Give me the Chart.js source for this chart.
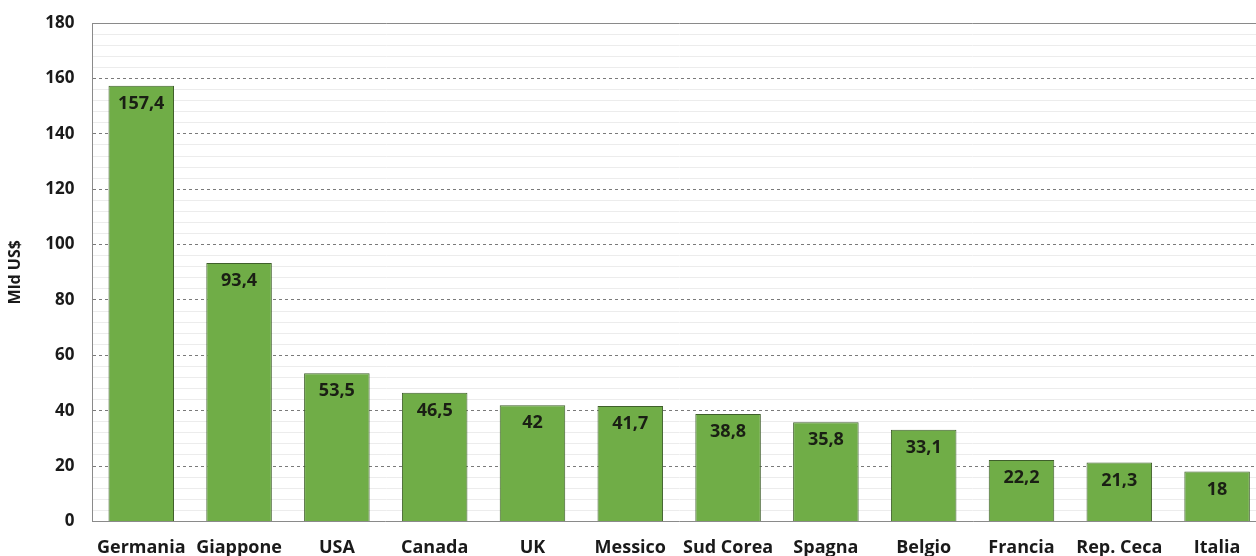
<!DOCTYPE html>
<html>
<head>
<meta charset="utf-8">
<script src="https://cdn.jsdelivr.net/npm/chart.js@4"></script>
<style>
  html, body { margin: 0; padding: 0; background: #fff; overflow: hidden; }
  #wrap { width: 1266px; height: 572px; margin-top: -5px; position: relative; }
</style>
</head>
<body>
<div id="wrap"><canvas id="exportChart"></canvas></div>
<script>
const paesi = ['Germania', 'Giappone', 'USA', 'Canada', 'UK', 'Messico', 'Sud Corea', 'Spagna', 'Belgio', 'Francia', 'Rep. Ceca', 'Italia'];
const valori = [157.4, 93.4, 53.5, 46.5, 42, 41.7, 38.8, 35.8, 33.1, 22.2, 21.3, 18];
const asseY = { min: 0, max: 180, passo: 4, passoEtichette: 20 };

const FONT = "'Open Sans', 'Noto Sans', sans-serif";

// scrive il valore dentro la barra, vicino alla cima
const etichetteValori = {
  id: 'etichetteValori',
  afterDatasetsDraw(chart) {
    const ctx = chart.ctx;
    const meta = chart.getDatasetMeta(0);
    ctx.save();
    ctx.font = 'bold 18px ' + FONT;
    ctx.fillStyle = '#1a1f14';
    ctx.textAlign = 'center';
    ctx.textBaseline = 'middle';
    meta.data.forEach((bar, i) => {
      const txt = String(valori[i]).replace('.', ',');
      ctx.fillText(txt, bar.x, bar.y + 18);
    });
    ctx.restore();
  }
};

const grafico = new Chart(document.getElementById('exportChart'), {
  type: 'bar',
  data: {
    labels: paesi,
    datasets: [{
      data: valori,
      backgroundColor: '#70ad47',
      borderColor: '#3f5f2b',
      borderWidth: 1,
      categoryPercentage: 1,
      barPercentage: 0.67
    }]
  },
  options: {
    responsive: true,
    maintainAspectRatio: false,
    animation: false,
    layout: { padding: { top: 8, left: 6, right: 0, bottom: 0 } },
    plugins: {
      legend: { display: false },
      tooltip: { enabled: false }
    },
    scales: {
      x: {
        grid: { display: false },
        border: { display: true, color: '#8a8a8a', width: 1 },
        ticks: {
          color: '#1a1a1a',
          font: { family: FONT, size: 18, weight: 'bold' },
          maxRotation: 0,
          autoSkip: false,
          padding: 8
        }
      },
      y: {
        min: asseY.min,
        max: asseY.max,
        border: {
          display: true,
          color: '#8a8a8a',
          width: 1,
          dash: (c) => {
            if (!c.tick) return [];
            const v = c.tick.value;
            return (v % asseY.passoEtichette === 0 && v !== asseY.max) ? [3, 3] : [];
          }
        },
        grid: {
          drawTicks: false,
          color: (c) => {
            const v = c.tick.value;
            if (v === asseY.max) return '#8a8a8a';
            if (v % asseY.passoEtichette === 0) return '#7a7a7a';
            return '#ececec';
          },
          lineWidth: 1
        },
        ticks: {
          stepSize: asseY.passo,
          autoSkip: false,
          color: '#1a1a1a',
          padding: 18,
          font: { family: FONT, size: 17, weight: 'bold' },
          callback: (v) => (v % asseY.passoEtichette === 0 ? v : '')
        },
        title: {
          display: true,
          text: 'Mld US$',
          color: '#1a1a1a',
          font: { family: FONT, size: 16, weight: 'bold' },
          padding: { top: 0, bottom: 2 }
        }
      }
    }
  },
  plugins: [etichetteValori]
});
</script>
</body>
</html>
